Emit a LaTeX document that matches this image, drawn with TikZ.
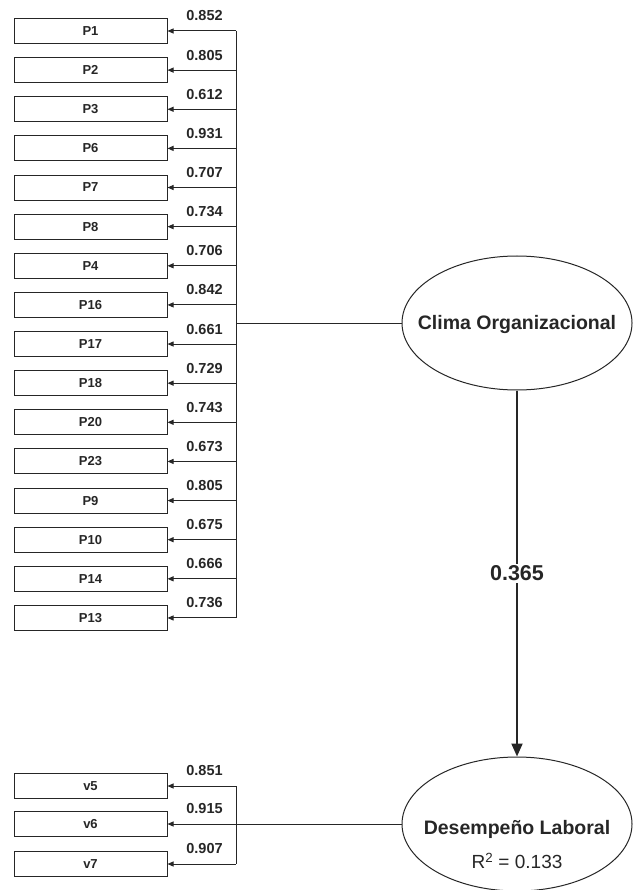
\documentclass[tikz,border=0pt]{standalone}
\usepackage{fontspec}
\setmainfont{Liberation Sans}
\usetikzlibrary{arrows.meta,shapes.geometric}
\definecolor{ink}{gray}{0.15}
\begin{document}
\begin{tikzpicture}[x=1pt,y=-1pt,
  ind/.style={draw=ink,line width=1pt,minimum width=153pt,minimum height=25pt,inner sep=0pt,
    font=\fontsize{13}{15}\selectfont\bfseries,text=ink},
  coef/.style={font=\fontsize{14.5}{16}\selectfont\bfseries,text=ink,inner sep=0pt},
  lat/.style={draw=ink,line width=1pt,ellipse,minimum width=230pt,minimum height=134pt,inner sep=0pt},
  latlbl/.style={font=\fontsize{19.5}{22}\selectfont\bfseries,text=ink,inner sep=0pt},
  load/.style={draw=ink,line width=1pt,-{Triangle[length=6pt,width=5pt]}},
  conn/.style={draw=ink,line width=1pt}]
\useasboundingbox (0,0) rectangle (632,890);
% Clima Organizacional indicators
\foreach \n/\c [count=\i from 0] in {P1/0.852,P2/0.805,P3/0.612,P6/0.931,P7/0.707,P8/0.734,P4/0.706,P16/0.842,P17/0.661,P18/0.729,P20/0.743,P23/0.673,P9/0.805,P10/0.675,P14/0.666,P13/0.736}{
  \pgfmathsetmacro{\yy}{31+\i*39.13}
  \node[ind] (\n) at (90.5,\yy) {\n};
  \coordinate (j\n) at (236,\yy);
  \draw[load] (j\n) -- (\n.east);
  \node[coef] (c\n) at (204.5,\yy-15) {\c};
}
\draw[conn] (jP1) -- (jP13);
\node[lat] (clima) at (517,323) {};
\node[latlbl] (climalbl) at (517,325) {Clima Organizacional};
\coordinate (jclima) at (236,323);
\draw[conn] (clima.west) -- (jclima);
% Desempeno Laboral
\node[lat] (des) at (517,824) {};
\node[latlbl] (deslbl) at (517,829) {Desempeño Laboral};
\node[font=\fontsize{19}{22}\selectfont,text=ink] (desr2) at (517,861) {R\textsuperscript{2} = 0.133};
\foreach \n/\c/\yy in {v5/0.851/786,v6/0.915/824,v7/0.907/864}{
  \node[ind] (\n) at (90.5,\yy) {\n};
  \coordinate (j\n) at (236,\yy);
  \node[coef] (c\n) at (204.5,\yy-16) {\c};
}
\draw[load] (jv5) -- (v5.east);
\draw[load] (jv7) -- (v7.east);
\draw[conn] (jv5) -- (jv7);
\draw[load] (des.west) -- (v6.east);
% structural path
\draw[draw=ink,line width=2pt,-{Triangle[length=13pt,width=11pt]}] (clima.south) -- (des.north)
  node[midway,fill=white,inner sep=2pt,font=\fontsize{21.5}{24}\selectfont\bfseries,text=ink] (beta) {0.365};
\end{tikzpicture}
\end{document}
